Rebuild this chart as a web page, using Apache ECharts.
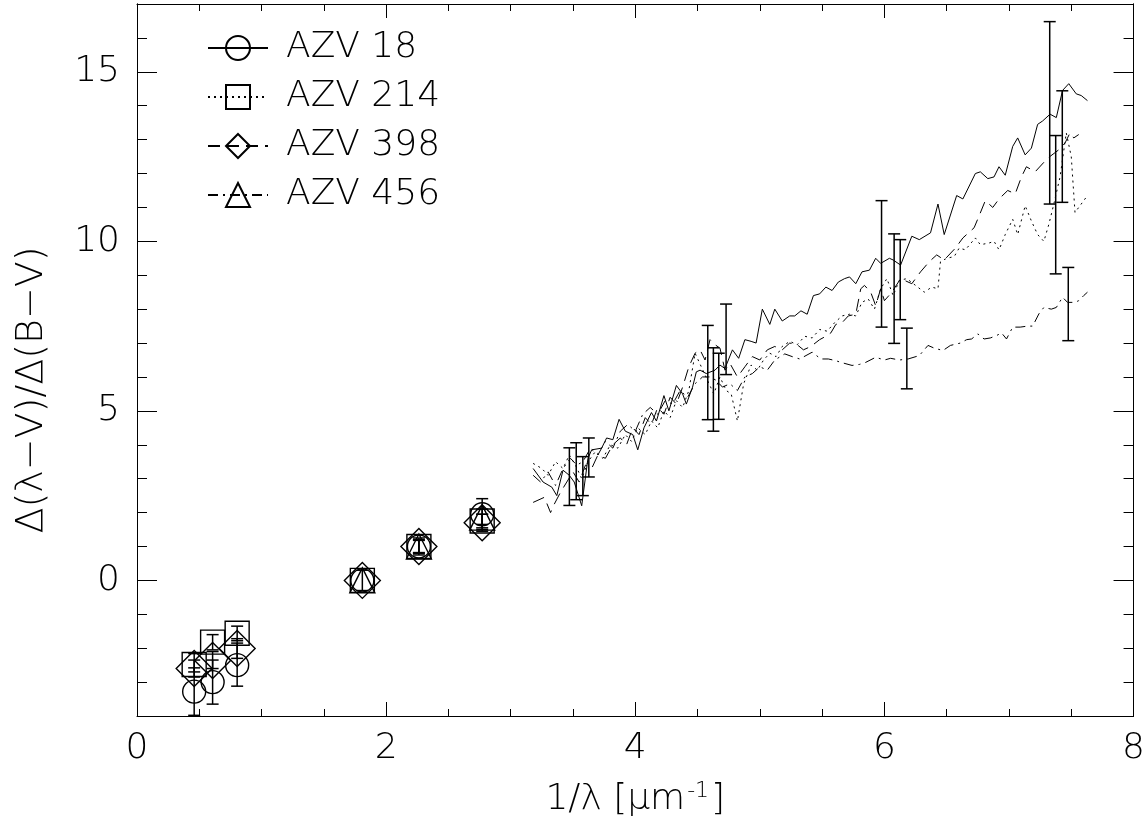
<!DOCTYPE html>
<html>
<head>
<meta charset="utf-8">
<script src="https://cdn.jsdelivr.net/npm/echarts@6/dist/echarts.min.js"></script>
<style>
  html, body { margin: 0; padding: 0; background: #fff; }
  #chart { width: 1148px; height: 833px; }
</style>
</head>
<body>
<div id="chart"></div>
<script>
// star names and axis ticks
var starNames = ['AZV 18', 'AZV 214', 'AZV 398', 'AZV 456'];
var yMajor = [0, 5, 10, 15];
var yMinor = [-4, -3, -2, -1, 0, 1, 2, 3, 4, 5, 6, 7, 8, 9, 10, 11, 12, 13, 14, 15, 16, 17];

// UV extinction curves [1/lambda, E(l-V)/E(B-V)]
var uv18 = [[3.18,3.3],[3.26,2.9],[3.33,2.75],[3.37,2.5],[3.42,3.25],[3.47,3.1],[3.51,2.9],[3.57,2.2],[3.62,3.6],[3.65,3.85],[3.73,3.9],[3.77,4.2],[3.82,4.15],[3.87,4.75],[3.92,4.4],[3.98,4.3],[4.02,3.85],[4.07,4.5],[4.13,4.95],[4.17,4.7],[4.23,5.45],[4.27,5.0],[4.33,5.75],[4.38,5.5],[4.41,5.2],[4.46,5.7],[4.49,6.15],[4.52,6.2],[4.57,6.1],[4.64,6.2],[4.68,6.35],[4.72,6.25],[4.78,6.8],[4.83,6.55],[4.88,7.1],[4.93,7.05],[4.97,7.0],[5.02,8.0],[5.08,7.55],[5.12,8.0],[5.18,7.65],[5.24,7.8],[5.28,7.8],[5.33,7.95],[5.38,7.85],[5.43,8.4],[5.48,8.45],[5.53,8.65],[5.58,8.55],[5.63,8.8],[5.68,8.9],[5.72,8.95],[5.77,8.75],[5.82,9.1],[5.88,9.15],[5.93,9.5],[5.97,9.35],[6.04,9.5],[6.07,9.45],[6.13,9.3],[6.22,10.15],[6.28,10.05],[6.37,10.25],[6.43,11.1],[6.48,10.2],[6.58,11.35],[6.63,11.25],[6.73,12.0],[6.77,12.05],[6.83,11.85],[6.88,11.9],[6.92,12.2],[6.97,11.95],[7.03,12.8],[7.07,13.05],[7.13,12.55],[7.18,12.75],[7.23,13.45],[7.27,13.55],[7.33,13.75],[7.38,13.65],[7.43,14.45],[7.48,14.65],[7.54,14.35],[7.58,14.3],[7.63,14.15]];
var uv214 = [[3.18,3.45],[3.25,3.3],[3.3,3.1],[3.36,3.5],[3.42,3.3],[3.47,3.7],[3.52,3.4],[3.57,3.0],[3.62,3.5],[3.68,3.8],[3.74,3.6],[3.8,4.0],[3.86,3.9],[3.92,4.3],[3.97,4.1],[4.02,4.5],[4.08,4.3],[4.13,4.7],[4.18,4.5],[4.23,5.0],[4.28,4.8],[4.33,5.3],[4.38,5.1],[4.43,5.6],[4.48,6.7],[4.53,6.3],[4.58,5.9],[4.63,5.5],[4.68,6.0],[4.73,5.6],[4.77,5.5],[4.82,4.7],[4.87,5.8],[4.93,6.35],[4.98,6.2],[5.03,6.5],[5.08,6.7],[5.13,6.6],[5.18,6.9],[5.24,7.05],[5.3,6.95],[5.36,7.2],[5.42,7.15],[5.48,7.4],[5.54,7.35],[5.6,7.6],[5.66,7.8],[5.72,7.85],[5.77,7.8],[5.82,8.2],[5.87,8.3],[5.92,8.0],[5.97,8.6],[6.02,8.9],[6.07,8.4],[6.12,8.85],[6.18,8.9],[6.25,8.7],[6.32,8.5],[6.38,8.65],[6.43,8.6],[6.45,9.4],[6.5,9.5],[6.56,9.55],[6.6,9.8],[6.65,9.75],[6.73,10.1],[6.77,9.9],[6.84,9.95],[6.88,10.0],[6.92,9.75],[6.97,10.2],[7.03,10.65],[7.07,10.2],[7.13,11.05],[7.18,10.6],[7.23,10.2],[7.28,10.0],[7.32,10.5],[7.36,11.1],[7.41,11.9],[7.46,13.2],[7.5,12.5],[7.53,10.85],[7.58,11.1],[7.62,11.3]];
var uv398 = [[3.18,2.3],[3.27,2.45],[3.32,2.0],[3.35,2.25],[3.4,2.6],[3.45,2.9],[3.5,3.2],[3.55,2.9],[3.6,3.4],[3.65,3.3],[3.7,3.7],[3.76,3.6],[3.82,4.0],[3.88,4.2],[3.93,4.0],[3.98,4.5],[4.03,4.3],[4.08,4.8],[4.13,4.6],[4.18,5.1],[4.23,4.9],[4.28,5.4],[4.33,5.2],[4.38,5.7],[4.43,6.3],[4.48,6.7],[4.52,6.8],[4.56,6.5],[4.6,7.1],[4.64,6.95],[4.68,6.85],[4.72,6.2],[4.76,6.4],[4.82,6.0],[4.88,6.3],[4.94,6.6],[5.0,6.5],[5.06,6.8],[5.12,6.9],[5.18,6.8],[5.24,7.0],[5.3,6.95],[5.35,6.8],[5.41,6.9],[5.48,7.1],[5.53,7.2],[5.57,7.3],[5.61,7.55],[5.66,7.6],[5.71,7.8],[5.77,7.85],[5.81,8.6],[5.84,8.7],[5.89,8.5],[5.93,8.1],[5.97,8.6],[6.0,8.25],[6.06,8.5],[6.13,8.9],[6.22,8.75],[6.29,9.1],[6.36,9.4],[6.42,9.6],[6.48,9.45],[6.57,9.8],[6.63,10.1],[6.72,10.4],[6.76,10.75],[6.81,11.2],[6.87,11.0],[6.92,11.25],[6.99,11.5],[7.05,11.4],[7.1,11.9],[7.14,12.2],[7.21,12.05],[7.31,12.45],[7.4,12.7],[7.45,12.9],[7.49,13.2],[7.52,13.05],[7.56,13.15]];
var uv456 = [[3.18,3.1],[3.24,2.9],[3.3,3.2],[3.36,2.8],[3.42,3.3],[3.48,3.6],[3.53,3.4],[3.58,3.5],[3.64,3.9],[3.7,3.7],[3.76,4.1],[3.82,3.9],[3.88,4.4],[3.94,4.6],[4.0,4.4],[4.06,4.9],[4.12,5.1],[4.18,4.9],[4.24,5.3],[4.3,5.2],[4.36,5.6],[4.42,5.4],[4.48,5.8],[4.54,6.0],[4.6,6.0],[4.65,5.9],[4.7,5.7],[4.76,5.8],[4.82,5.6],[4.88,6.0],[4.94,6.1],[5.0,6.3],[5.06,6.2],[5.12,6.5],[5.2,6.68],[5.26,6.6],[5.32,6.53],[5.42,6.73],[5.49,6.53],[5.55,6.53],[5.61,6.48],[5.65,6.43],[5.74,6.34],[5.8,6.37],[5.85,6.43],[5.93,6.58],[6.0,6.5],[6.05,6.55],[6.12,6.5],[6.19,6.53],[6.28,6.63],[6.35,6.93],[6.4,6.85],[6.47,6.78],[6.53,6.93],[6.61,7.0],[6.66,7.1],[6.7,7.12],[6.75,7.27],[6.8,7.12],[6.85,7.15],[6.9,7.22],[6.94,7.3],[6.98,7.12],[7.03,7.47],[7.09,7.47],[7.15,7.5],[7.19,7.5],[7.24,7.86],[7.28,8.05],[7.34,8.0],[7.38,8.05],[7.43,8.35],[7.47,8.2],[7.53,8.2],[7.56,8.25],[7.6,8.4],[7.63,8.5]];

// photometric points (K, H, J, V, B, U)
var phot18 = [[0.459,-3.28],[0.607,-3.0],[0.804,-2.5],[1.809,0],[2.263,1.0],[2.771,1.95]];
var phot214 = [[0.459,-2.48],[0.607,-1.82],[0.804,-1.56],[1.809,0],[2.263,1.0],[2.771,1.75]];
var phot398 = [[0.459,-2.6],[0.607,-2.36],[0.804,-2.01],[1.809,0],[2.263,1.0],[2.771,1.7]];
var phot456 = [[1.809,0],[2.263,1.0],[2.771,1.85]];

// error bars [x, low, high]
var err18 = [[0.459,-3.98,-2.58],[0.607,-3.65,-2.35],[0.804,-3.12,-1.85],[1.809,-0.3,0.3],[2.263,0.75,1.25],[2.771,1.5,2.41]];
var err214 = [[0.459,-2.7,-2.16],[0.607,-2.05,-1.6],[0.804,-1.78,-1.35],[2.263,0.8,1.2],[2.771,1.55,1.95]];
var err398 = [[0.459,-2.85,-2.35],[0.607,-2.6,-2.1],[0.804,-2.3,-1.72],[2.771,1.45,1.95]];
var err456 = [[2.263,0.82,1.18],[2.771,1.65,2.1]];
var errUV = [[3.471,2.21,3.91],[3.526,2.38,4.06],[3.579,2.5,3.65],[3.627,3.05,4.2],
             [4.582,4.74,7.52],[4.627,4.40,6.86],[4.670,4.75,6.70],[4.729,6.07,8.15],
             [5.977,7.47,11.2],[6.078,6.99,10.22],[6.127,7.69,10.05],[6.180,5.65,7.44],
             [7.327,11.1,16.48],[7.375,9.04,13.12],[7.428,11.15,14.44],[7.476,7.07,9.23]];

var FONT = '"DejaVu Sans", "Liberation Sans", sans-serif';
var symbols = ['circle', 'rect', 'diamond', 'triangle'];
var symbolSizes = [23, 24, 36, 25];
var dashTypes = ['solid', [2, 4], [12, 7], [10, 5, 2, 5]];
var uvData = [uv18, uv214, uv398, uv456];
var photData = [phot18, phot214, phot398, phot456];

var chart = echarts.init(document.getElementById('chart'));

function renderErr(params, api) {
    var x = api.value(0);
    var top = api.coord([x, api.value(2)]);
    var bot = api.coord([x, api.value(1)]);
    var w = 6;
    var st = { stroke: '#000', lineWidth: 1.5 };
    return {
        type: 'group',
        children: [
            { type: 'line', shape: { x1: top[0], y1: top[1], x2: bot[0], y2: bot[1] }, style: st },
            { type: 'line', shape: { x1: top[0] - w, y1: top[1], x2: top[0] + w, y2: top[1] }, style: st },
            { type: 'line', shape: { x1: bot[0] - w, y1: bot[1], x2: bot[0] + w, y2: bot[1] }, style: st }
        ]
    };
}

function xAxisCfg(pos, withLabels) {
    var ax = {
        type: 'value', min: 0, max: 8, interval: 2, position: pos,
        axisLine: { onZero: false, lineStyle: { color: '#000', width: 1 } },
        axisTick: { inside: true, length: 14, lineStyle: { color: '#000' } },
        minorTick: { show: true, splitNumber: 4, length: 7, lineStyle: { color: '#000' } },
        splitLine: { show: false },
        axisLabel: { show: withLabels, margin: 15, fontSize: 36, fontFamily: FONT, fontWeight: 200, color: '#000' }
    };
    if (withLabels) {
        ax.name = '1/λ [μm{sup|-1}]';
        ax.nameLocation = 'middle';
        ax.nameGap = 64;
        ax.nameTextStyle = {
            fontSize: 36, fontFamily: FONT, fontWeight: 200, color: '#000',
            rich: { sup: { fontSize: 22, fontFamily: FONT, fontWeight: 200, color: '#000', padding: [0, 2, 18, 2] } }
        };
    }
    return ax;
}

function yAxisCfg(pos, ticks, len, withLabels) {
    var ax = {
        type: 'value', min: -4, max: 17, position: pos,
        axisLine: { show: true, onZero: false, lineStyle: { color: '#000', width: 1 } },
        axisTick: { inside: true, length: len, customValues: ticks, lineStyle: { color: '#000' } },
        splitLine: { show: false },
        axisLabel: { show: withLabels, customValues: ticks, margin: 17, fontSize: 36, fontFamily: FONT, fontWeight: 200, color: '#000' }
    };
    if (withLabels) {
        ax.name = 'Δ(λ−V)/Δ(B−V)';
        ax.nameLocation = 'middle';
        ax.nameGap = 86;
        ax.nameTextStyle = { fontSize: 38, fontFamily: FONT, fontWeight: 200, color: '#000', padding: [0, 60, 0, 0] };
    }
    return ax;
}

var series = [];
starNames.forEach(function (name, i) {
    series.push({
        type: 'line', name: name, data: uvData[i],
        xAxisIndex: 0, yAxisIndex: 0,
        symbol: symbols[i], symbolSize: symbolSizes[i], showSymbol: false,
        lineStyle: { color: '#000', width: 1, type: dashTypes[i] },
        itemStyle: { color: 'rgba(0,0,0,0)', borderColor: '#000', borderWidth: 1 },
        silent: true
    });
});
starNames.forEach(function (name, i) {
    series.push({
        type: 'scatter', name: name, data: photData[i],
        xAxisIndex: 0, yAxisIndex: 0,
        symbol: symbols[i], symbolSize: symbolSizes[i],
        itemStyle: { color: 'rgba(255,255,255,0)', borderColor: '#000', borderWidth: 1.4, opacity: 1 },
        emphasis: { disabled: true },
        silent: true
    });
});
series.push({
    type: 'custom', data: errUV.concat(err18, err214, err398, err456),
    xAxisIndex: 0, yAxisIndex: 0,
    encode: { x: 0, y: [1, 2] },
    renderItem: renderErr, silent: true
});

chart.setOption({
    animation: false,
    backgroundColor: '#fff',
    grid: { left: 137, right: 13, top: 4, bottom: 117, containLabel: false },
    legend: {
        data: starNames, orient: 'vertical', left: 207, top: 30, padding: 0,
        itemWidth: 60, itemHeight: 30, itemGap: 13, selectedMode: false,
        textStyle: { fontSize: 36, fontFamily: FONT, fontWeight: 200, color: '#000', padding: [0, 0, 0, 13], lineHeight: 30 }
    },
    xAxis: [xAxisCfg('bottom', true), xAxisCfg('top', false)],
    yAxis: [
        yAxisCfg('left', yMajor, 20, true),
        yAxisCfg('left', yMinor, 10, false),
        yAxisCfg('right', yMajor, 20, false),
        yAxisCfg('right', yMinor, 10, false)
    ],
    series: series
});
</script>
</body>
</html>
